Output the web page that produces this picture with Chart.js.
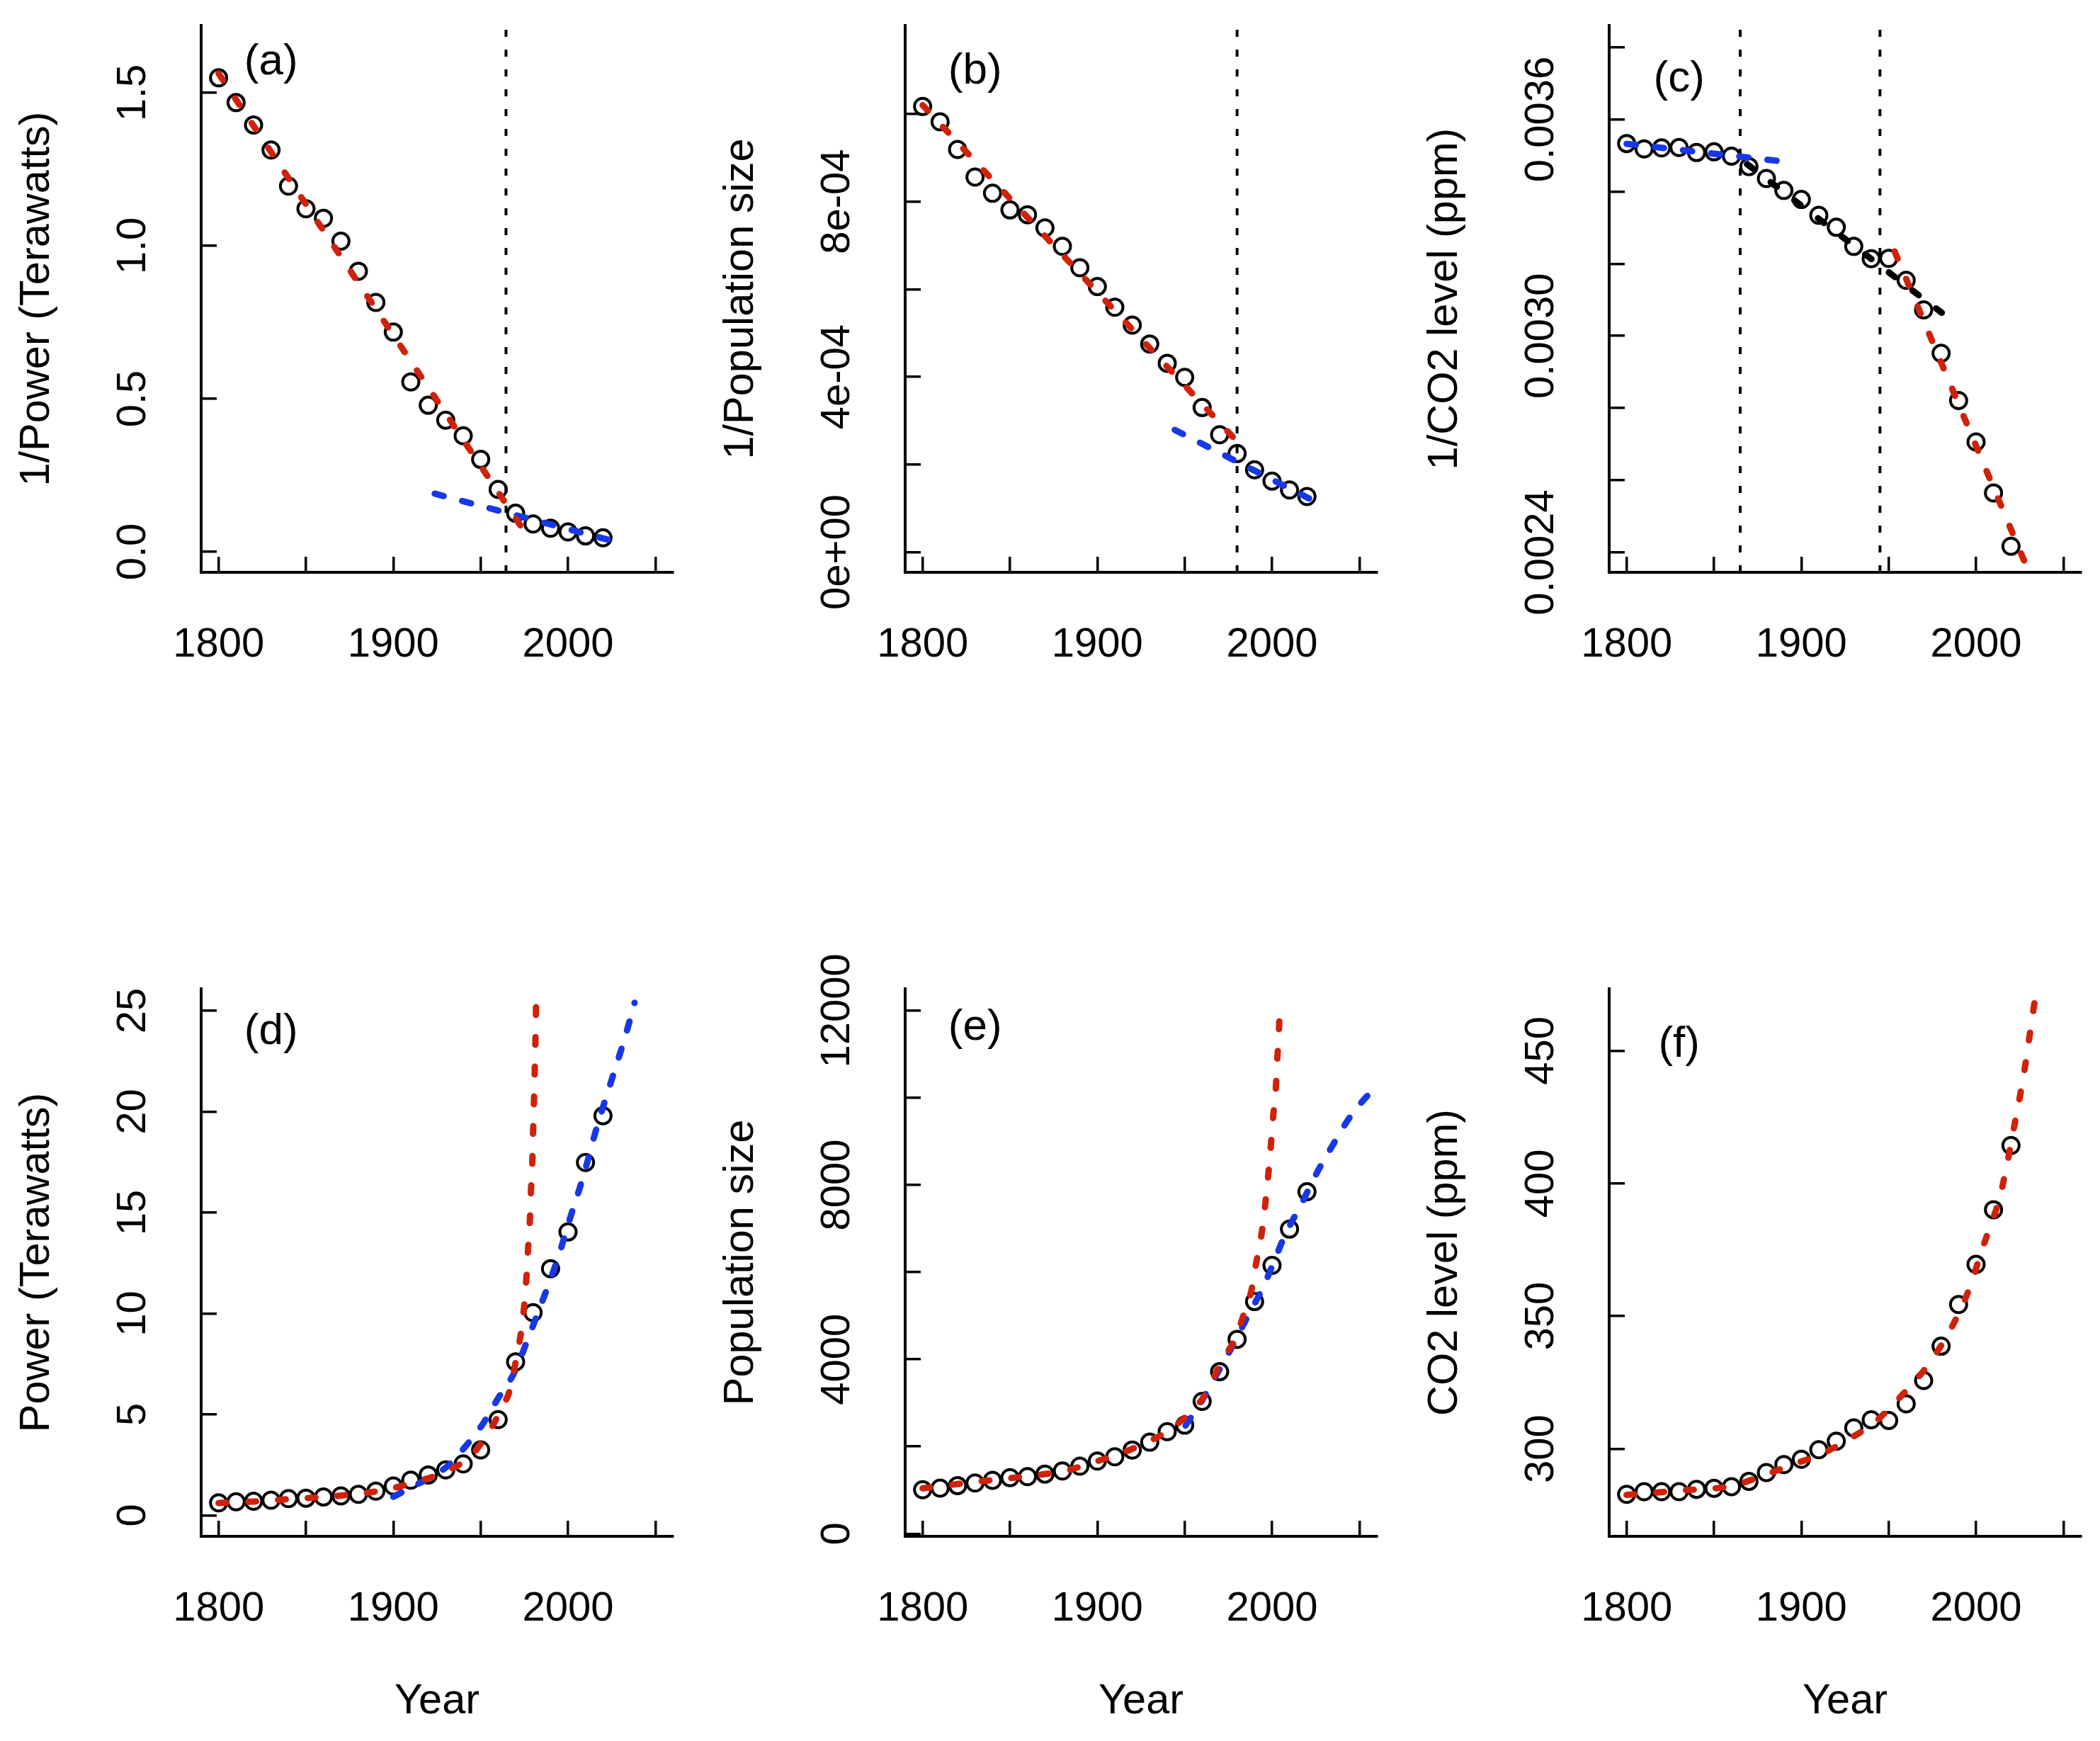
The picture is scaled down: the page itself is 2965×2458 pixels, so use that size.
<!DOCTYPE html>
<html>
<head>
<meta charset="utf-8">
<title>Power, population and CO2 against year</title>
<script src="https://cdn.jsdelivr.net/npm/chart.js@4.4.1/dist/chart.umd.min.js"></script>
<style>
  html, body { margin: 0; padding: 0; background: #fff; }
  body { position: relative; width: 2965px; height: 2458px; overflow: hidden; }
  canvas { position: absolute; }
</style>
</head>
<body>
<canvas id="panel-a"></canvas>
<canvas id="panel-b"></canvas>
<canvas id="panel-c"></canvas>
<canvas id="panel-d"></canvas>
<canvas id="panel-e"></canvas>
<canvas id="panel-f"></canvas>
<script>
// ---- observations, one per decade ----
const years = [1800, 1810, 1820, 1830, 1840, 1850, 1860, 1870, 1880, 1890, 1900, 1910,
  1920, 1930, 1940, 1950, 1960, 1970, 1980, 1990, 2000, 2010, 2020];

const invPower = [1.549, 1.468, 1.395, 1.313, 1.195, 1.121, 1.090, 1.015, 0.917, 0.815, 0.718, 0.555,
  0.479, 0.430, 0.379, 0.302, 0.204, 0.126, 0.091, 0.077, 0.065, 0.052, 0.046];
const invPopulation = [1.017e-3, 0.982e-3, 0.919e-3, 0.856e-3, 0.819e-3, 0.781e-3, 0.770e-3, 0.740e-3,
  0.698e-3, 0.649e-3, 0.606e-3, 0.559e-3, 0.518e-3, 0.475e-3, 0.431e-3, 0.399e-3, 0.330e-3, 0.268e-3,
  0.225e-3, 0.188e-3, 0.162e-3, 0.142e-3, 0.127e-3];
const invCO2 = [0.003533, 0.003518, 0.003521, 0.003522, 0.003508, 0.003510, 0.003498, 0.003469,
  0.003436, 0.003403, 0.003378, 0.003334, 0.003301, 0.003248, 0.003214, 0.003215, 0.003154, 0.003072,
  0.002952, 0.002821, 0.002706, 0.002565, 0.002417];
const power = [0.62, 0.67, 0.70, 0.75, 0.83, 0.85, 0.91, 0.96, 1.04, 1.20, 1.45, 1.74,
  2.00, 2.25, 2.55, 3.24, 4.74, 7.60, 10.04, 12.22, 14.04, 17.48, 19.80];
const population = [1008, 1044, 1104, 1164, 1224, 1284, 1308, 1368, 1440, 1548, 1668, 1764,
  1920, 2100, 2340, 2490, 3036, 3717, 4460, 5326, 6157, 6988, 7848];
const co2 = [282.9, 283.9, 283.9, 283.9, 284.8, 285.2, 285.8, 287.8, 291.1, 294.1, 296.1, 299.7,
  302.9, 307.9, 311.0, 310.7, 317.0, 325.8, 338.7, 354.4, 369.5, 390.1, 414.3];

// ---- fitted curves ----
const aRedYears = [1800, 1975];
const aRedValues = [1.563, 0.067];
const aBlueYears = [1923.7, 2024];
const aBlueValues = [0.19, 0.038];

const bRedYears = [1800, 1980.6];
const bRedValues = [1.02e-3, 0.25e-3];
const bBlueYears = [1944.3, 2025.9];
const bBlueValues = [0.279e-3, 0.113e-3];

const cBlueYears = [1800, 1893.9];
const cBlueValues = [0.003532, 0.003481];
const cBlackYears = [1868.9, 1980.4];
const cBlackValues = [0.003476, 0.003064];
const cRedYears = [1953.4, 2030.3];
const cRedValues = [0.003234, 0.002345];

const dRedYears = [1800, 1820, 1840, 1870, 1897, 1913, 1923, 1933, 1944, 1954, 1962, 1967, 1970,
  1972.8, 1974.8, 1976.2, 1977.2, 1978.2, 1978.8, 1979.6, 1980, 1980.5, 1980.9, 1981.3, 1981.6, 1981.9];
const dRedValues = [0.61, 0.68, 0.80, 0.98, 1.29, 1.67, 1.92, 2.29, 2.91, 4.04, 5.29, 6.3, 7.6,
  8.9, 10.3, 11.8, 13.3, 14.7, 16.1, 17.6, 19.0, 20.5, 21.9, 23.4, 24.8, 26.5];
const dBlueYears = [1900, 1916.6, 1930.8, 1940, 1951, 1960, 1968.8, 1976.9, 1983, 1988.3, 1994.4,
  2001.8, 2007, 2012, 2015.4, 2021, 2026.9, 2033, 2038.1];
const dBlueValues = [0.92, 1.67, 2.42, 3.28, 4.5, 5.8, 7.0, 8.7, 10.1, 11.3, 12.8,
  14.9, 16.3, 17.8, 18.9, 20.5, 22.1, 23.8, 25.4];

const eRedYears = [1800, 1830, 1858, 1884, 1896, 1910, 1927.5, 1939.7, 1951.9, 1962.6, 1970.7, 1978.9,
  1984.3, 1988.3, 1990.6, 1993.7, 1995.8, 1997.5, 1999.1, 2000.5, 2002.1, 2002.9, 2003.9, 2004.6];
const eRedValues = [1040, 1188, 1310, 1464, 1620, 1790, 2083, 2336, 2736, 3243, 3932, 4478,
  5095, 5600, 6145, 6798, 7451, 8102, 8791, 9518, 10170, 10822, 11512, 12230];
const eBlueYears = [1950.5, 1960, 1968.1, 1976.2, 1985.6, 1995.1, 2000.5, 2007.2, 2016.7, 2026.2,
  2035.6, 2045.1, 2058.5];
const eBlueValues = [2481, 3063, 3642, 4222, 4949, 5674, 6180, 6833, 7558, 8320,
  8973, 9589, 10230];

const fRedYears = [1800, 1830, 1861, 1879, 1897, 1911.5, 1928.3, 1941.9, 1957.4, 1970.9, 1979.7,
  1989.2, 1997.3, 2002.7, 2008.1, 2013.5, 2017.5, 2022.3, 2025.4, 2028.3, 2030.8, 2033.5];
const fRedValues = [282.7, 284.3, 286.2, 290.2, 294.6, 298.1, 304.1, 310.0, 320.1, 330.2, 338.6,
  349.9, 362.4, 373.7, 383.8, 394.5, 406.5, 423.1, 433.8, 445.1, 456.4, 468.3];

// breakpoints (vertical dotted lines)
const aBreaks = [1964.5];
const bBreaks = [1980];
const cBreaks = [1865, 1945];

// ---- ticks ----
const yearTicks = [1800, 1850, 1900, 1950, 2000, 2050];
const yearLabels = [1800, 1900, 2000];

const aTicks = [0, 0.5, 1, 1.5];
const aLabelAt = [0, 0.5, 1, 1.5];
const aLabelText = ['0.0', '0.5', '1.0', '1.5'];
const bTicks = [0, 2e-4, 4e-4, 6e-4, 8e-4, 1e-3];
const bLabelAt = [0, 4e-4, 8e-4];
const bLabelText = ['0e+00', '4e-04', '8e-04'];
const cTicks = [0.0024, 0.0026, 0.0028, 0.0030, 0.0032, 0.0034, 0.0036, 0.0038];
const cLabelAt = [0.0024, 0.0030, 0.0036];
const cLabelText = ['0.0024', '0.0030', '0.0036'];
const dTicks = [0, 5, 10, 15, 20, 25];
const dLabelAt = [0, 5, 10, 15, 20, 25];
const dLabelText = ['0', '5', '10', '15', '20', '25'];
const eTicks = [0, 2000, 4000, 6000, 8000, 10000, 12000];
const eLabelAt = [0, 4000, 8000, 12000];
const eLabelText = ['0', '4000', '8000', '12000'];
const fTicks = [300, 350, 400, 450];
const fLabelAt = [300, 350, 400, 450];
const fLabelText = ['300', '350', '400', '450'];

// ---- look ----
const RED = '#d0220a';
const BLUE = '#1738e6';
const FONT = '"Liberation Sans", Arial, Helvetica, sans-serif';

const PLOT_W = 666;
const Y_AXIS_W = 280;
const X_AXIS_H = 285;
const PAD_TOP = 120;   // room above the plot for long rotated tick labels
const PAD_RIGHT = 24;

function pts(xs, ys) {
  return xs.map((x, i) => ({ x, y: ys[i] }));
}

function observed(values) {
  return {
    data: pts(years, values),
    showLine: false,
    pointRadius: 11.5,
    pointBorderWidth: 4,
    pointBorderColor: '#000',
    pointBackgroundColor: 'rgba(0,0,0,0)',
    order: 2
  };
}

function fitLine(xs, ys, color, dash, smooth) {
  return {
    data: pts(xs, ys),
    showLine: true,
    pointRadius: 0,
    borderColor: color,
    borderWidth: 9,
    borderDash: dash,
    borderCapStyle: 'round',
    borderJoinStyle: 'round',
    cubicInterpolationMode: smooth ? 'monotone' : 'default',
    clip: 0,
    order: 1
  };
}

function breakLines(breaks, yMin, yMax) {
  return breaks.map(yr => ({
    data: [{ x: yr, y: yMin }, { x: yr, y: yMax }],
    showLine: true,
    pointRadius: 0,
    borderColor: '#000',
    borderWidth: 4,
    borderDash: [10, 18],
    borderCapStyle: 'butt',
    clip: 0,
    order: 3
  }));
}

const RED_DASH = [11, 31];
const BLUE_DASH = [13, 27];

/**
 * R-style text: rotated y labels, sparse x labels, titles and panel tag
 */
const rText = {
  id: 'rText',
  afterDraw(chart, args, o) {
    const { ctx, chartArea: area } = chart;
    const x = chart.scales.x;
    const y = chart.scales.y;
    ctx.save();
    ctx.fillStyle = '#000';
    ctx.textAlign = 'center';
    ctx.textBaseline = 'alphabetic';

    ctx.font = `58px ${FONT}`;
    yearLabels.forEach(v => {
      ctx.fillText(String(v), x.getPixelForValue(v), area.bottom + 119);
    });
    o.labelAt.forEach((v, i) => {
      ctx.save();
      ctx.translate(area.left - 79, y.getPixelForValue(v));
      ctx.rotate(-Math.PI / 2);
      ctx.fillText(o.labelText[i], 0, 0);
      ctx.restore();
    });

    ctx.font = `59.5px ${FONT}`;
    ctx.save();
    ctx.translate(area.left - 215, (area.top + area.bottom) / 2);
    ctx.rotate(-Math.PI / 2);
    ctx.fillText(o.yTitle, 0, 0);
    ctx.restore();
    if (o.xTitle) {
      ctx.fillText(o.xTitle, (area.left + area.right) / 2, area.bottom + 250);
    }

    ctx.font = `62px ${FONT}`;
    ctx.textBaseline = 'middle';
    ctx.fillText(o.tag, x.getPixelForValue(o.tagAt[0]), y.getPixelForValue(o.tagAt[1]));
    ctx.restore();
  }
};

function axisOpts(min, max, tickVals, isX) {
  return {
    type: 'linear',
    position: isX ? 'bottom' : 'left',
    min: min,
    max: max,
    afterBuildTicks: s => { s.ticks = tickVals.map(v => ({ value: v })); },
    afterFit: s => {
      if (isX) s.height = X_AXIS_H;
      else s.width = Y_AXIS_W;
    },
    ticks: { display: false },
    grid: {
      drawOnChartArea: false,
      drawTicks: true,
      tickLength: -22,
      tickWidth: 3.5,
      tickColor: '#000',
      lineWidth: 3.5,
      color: '#000'
    },
    border: { display: true, color: '#000', width: 4 }
  };
}

function makePanel(p) {
  const canvas = document.getElementById(p.id);
  const w = Y_AXIS_W + PLOT_W + PAD_RIGHT;
  const h = PAD_TOP + p.plotH + X_AXIS_H;
  canvas.width = w;
  canvas.height = h;
  canvas.style.left = (p.left - Y_AXIS_W) + 'px';
  canvas.style.top = (p.top - PAD_TOP) + 'px';

  return new Chart(canvas, {
    type: 'scatter',
    data: { datasets: p.datasets },
    options: {
      responsive: false,
      animation: false,
      events: [],
      devicePixelRatio: 1,
      layout: { padding: { top: PAD_TOP, right: PAD_RIGHT, left: 0, bottom: 0 } },
      plugins: {
        legend: { display: false },
        tooltip: { enabled: false },
        rText: {
          labelAt: p.labelAt,
          labelText: p.labelText,
          yTitle: p.yTitle,
          xTitle: p.xTitle,
          tag: p.tag,
          tagAt: p.tagAt
        }
      },
      scales: {
        x: axisOpts(1790, 2060, yearTicks, true),
        y: axisOpts(p.yMin, p.yMax, p.ticks, false)
      }
    },
    plugins: [rText]
  });
}

const panels = [
  {
    id: 'panel-a', left: 284, top: 36, plotH: 772, yMin: -0.067, yMax: 1.72,
    ticks: aTicks, labelAt: aLabelAt, labelText: aLabelText,
    yTitle: '1/Power (Terawatts)', tag: '(a)', tagAt: [1830, 1.6],
    datasets: [
      fitLine(aRedYears, aRedValues, RED, RED_DASH),
      fitLine(aBlueYears, aBlueValues, BLUE, BLUE_DASH),
      observed(invPower),
      ...breakLines(aBreaks, -0.067, 1.72)
    ]
  },
  {
    id: 'panel-b', left: 1278, top: 36, plotH: 772, yMin: -4.6e-5, yMax: 1.2018e-3,
    ticks: bTicks, labelAt: bLabelAt, labelText: bLabelText,
    yTitle: '1/Population size', tag: '(b)', tagAt: [1830, 1.097e-3],
    datasets: [
      fitLine(bRedYears, bRedValues, RED, RED_DASH),
      fitLine(bBlueYears, bBlueValues, BLUE, BLUE_DASH),
      observed(invPopulation),
      ...breakLines(bBreaks, -4.6e-5, 1.2018e-3)
    ]
  },
  {
    id: 'panel-c', left: 2272, top: 36, plotH: 772, yMin: 0.002345, yMax: 0.00386,
    ticks: cTicks, labelAt: cLabelAt, labelText: cLabelText,
    yTitle: '1/CO2 level (ppm)', tag: '(c)', tagAt: [1830, 0.003711],
    datasets: [
      fitLine(cBlueYears, cBlueValues, BLUE, BLUE_DASH),
      fitLine(cBlackYears, cBlackValues, '#000', RED_DASH),
      fitLine(cRedYears, cRedValues, RED, RED_DASH),
      observed(invCO2),
      ...breakLines(cBreaks, 0.002345, 0.00386)
    ]
  },
  {
    id: 'panel-d', left: 284, top: 1396, plotH: 773, yMin: -1.04, yMax: 26.09,
    ticks: dTicks, labelAt: dLabelAt, labelText: dLabelText,
    yTitle: 'Power (Terawatts)', xTitle: 'Year', tag: '(d)', tagAt: [1830, 23.95],
    datasets: [
      fitLine(dRedYears, dRedValues, RED, RED_DASH, true),
      fitLine(dBlueYears, dBlueValues, BLUE, BLUE_DASH, true),
      observed(power)
    ]
  },
  {
    id: 'panel-e', left: 1278, top: 1396, plotH: 773, yMin: -60, yMax: 12503,
    ticks: eTicks, labelAt: eLabelAt, labelText: eLabelText,
    yTitle: 'Population size', xTitle: 'Year', tag: '(e)', tagAt: [1830, 11610],
    datasets: [
      fitLine(eRedYears, eRedValues, RED, RED_DASH, true),
      fitLine(eBlueYears, eBlueValues, BLUE, BLUE_DASH, true),
      observed(population)
    ]
  },
  {
    id: 'panel-f', left: 2272, top: 1396, plotH: 773, yMin: 267.1, yMax: 473.3,
    ticks: fTicks, labelAt: fLabelAt, labelText: fLabelText,
    yTitle: 'CO2 level (ppm)', xTitle: 'Year', tag: '(f)', tagAt: [1830, 452.2],
    datasets: [
      fitLine(fRedYears, fRedValues, RED, RED_DASH, true),
      observed(co2)
    ]
  }
];

panels.forEach(makePanel);
</script>
</body>
</html>
